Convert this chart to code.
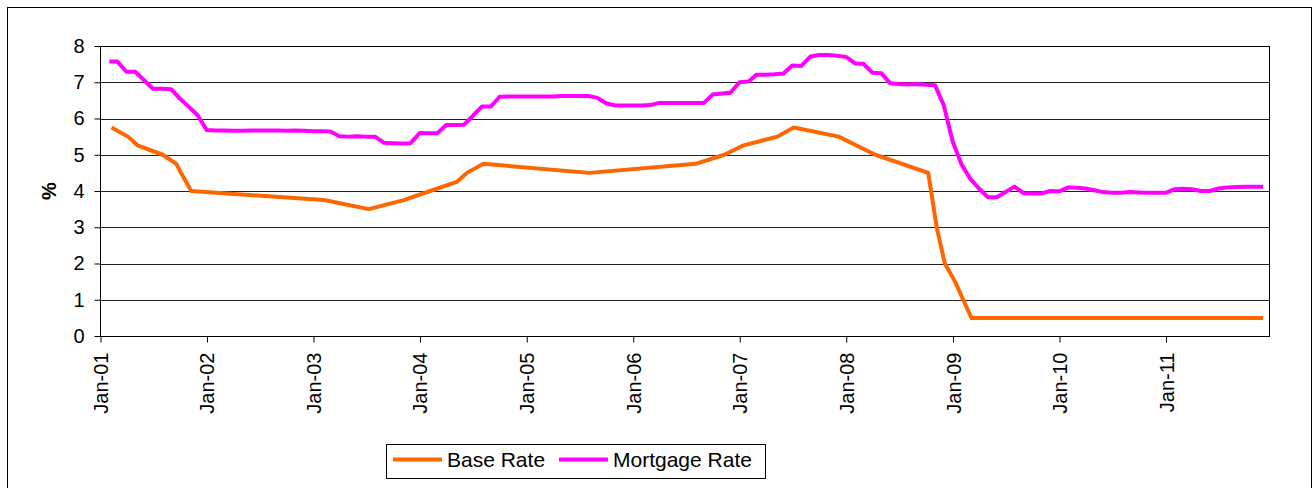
<!DOCTYPE html>
<html>
<head>
<meta charset="utf-8">
<script src="https://cdn.jsdelivr.net/npm/d3@7"></script>
<style>
  body { margin: 0; background: #fff; }
  svg { display: block; font-family: 'Liberation Sans', Arial, sans-serif; }
</style>
</head>
<body>
<div id="chart"></div>
<script>
// Bank base rate: points only where the rate changed
const baseDates = ['2001-02-08', '2001-04-05', '2001-05-10', '2001-08-02', '2001-09-18', '2001-10-04', '2001-11-08',
  '2003-02-06', '2003-07-10', '2003-11-06', '2004-02-05', '2004-05-06', '2004-06-10', '2004-08-05',
  '2005-08-04', '2006-08-03', '2006-11-09', '2007-01-11', '2007-05-10', '2007-07-05', '2007-12-06',
  '2008-02-07', '2008-04-10', '2008-10-08', '2008-11-06', '2008-12-04', '2009-01-08', '2009-02-05',
  '2009-03-05', '2011-11-30']
const baseRate = [5.75, 5.5, 5.25, 5.0, 4.75, 4.5, 4.0,
  3.75, 3.5, 3.75, 4.0, 4.25, 4.5, 4.75,
  4.5, 4.75, 5.0, 5.25, 5.5, 5.75, 5.5,
  5.25, 5.0, 4.5, 3.0, 2.0, 1.5, 1.0,
  0.5, 0.5]

// Mortgage rate: month-end, Jan 2001 - Nov 2011
const mortgageFirst = '2001-01'
const mortgageRate = [
  7.57, 7.57, 7.29, 7.29, 7.05, 6.82, 6.82, 6.81, 6.55, 6.32, 6.09, 5.68,
  5.67, 5.67, 5.66, 5.66, 5.67, 5.67, 5.67, 5.67, 5.66, 5.67, 5.66, 5.65,
  5.65, 5.64, 5.51, 5.50, 5.51, 5.50, 5.50, 5.33, 5.32, 5.31, 5.32, 5.60,
  5.59, 5.59, 5.82, 5.82, 5.83, 6.07, 6.33, 6.33, 6.60, 6.61, 6.61, 6.61,
  6.61, 6.61, 6.61, 6.62, 6.62, 6.62, 6.62, 6.57, 6.42, 6.36, 6.36, 6.36,
  6.36, 6.37, 6.43, 6.43, 6.43, 6.43, 6.43, 6.43, 6.66, 6.69, 6.71, 7.00,
  7.02, 7.21, 7.21, 7.22, 7.24, 7.46, 7.45, 7.71, 7.75, 7.75, 7.73, 7.70,
  7.52, 7.51, 7.26, 7.25, 6.97, 6.95, 6.94, 6.95, 6.93, 6.92, 6.37, 5.36,
  4.72, 4.35, 4.07, 3.83, 3.83, 3.97, 4.12, 3.94, 3.93, 3.93, 4.00, 3.99,
  4.10, 4.09, 4.07, 4.02, 3.97, 3.95, 3.95, 3.97, 3.96, 3.95, 3.95, 3.95,
  4.05, 4.06, 4.05, 4.00, 4.00, 4.07, 4.10, 4.11, 4.12, 4.12, 4.12
]

const yTicks = [0, 1, 2, 3, 4, 5, 6, 7, 8]
const seriesNames = ['Base Rate', 'Mortgage Rate']
const seriesColors = ['#ff6600', '#ff00ff']

const width = 1314
const height = 488
const plot = { left: 100, top: 46, right: 1269, bottom: 336 }

const svg = d3
  .select('#chart')
  .append('svg')
  .attr('width', width)
  .attr('height', height)

// outer chart border
svg
  .append('rect')
  .attr('x', 7.5)
  .attr('y', 7.5)
  .attr('width', 1304)
  .attr('height', 500)
  .attr('fill', 'none')
  .attr('stroke', '#000')

const parseDay = d3.timeParse('%Y-%m-%d')
const parseMonth = d3.timeParse('%Y-%m')

const start = parseMonth(mortgageFirst)
const mortgageDates = d3.timeMonth
  .range(d3.timeMonth.offset(start, 1), d3.timeMonth.offset(start, mortgageRate.length + 1))
  .map(d => d3.timeDay.offset(d, -1))

const baseData = baseDates.map((d, i) => ({ date: parseDay(d), value: baseRate[i] }))
const mortgageData = mortgageDates.map((d, i) => ({ date: d, value: mortgageRate[i] }))

const xPositionScale = d3
  .scaleTime()
  .domain([new Date(2001, 0, 1), new Date(2011, 11, 20)])
  .range([plot.left + 0.5, plot.right])
const yPositionScale = d3
  .scaleLinear()
  .domain([0, 8])
  .range([plot.bottom, plot.top])

// gridlines
svg
  .append('g')
  .selectAll('line')
  .data(yTicks)
  .enter()
  .append('line')
  .attr('x1', plot.left)
  .attr('x2', plot.right)
  .attr('y1', d => Math.round(yPositionScale(d)) + 0.5)
  .attr('y2', d => Math.round(yPositionScale(d)) + 0.5)
  .attr('stroke', '#222')
  .attr('stroke-width', 1)

// plot frame
svg
  .append('rect')
  .attr('x', plot.left + 0.5)
  .attr('y', plot.top + 0.5)
  .attr('width', plot.right - plot.left)
  .attr('height', plot.bottom - plot.top)
  .attr('fill', 'none')
  .attr('stroke', '#000')

// y axis
const yAxis = d3
  .axisLeft(yPositionScale)
  .tickValues(yTicks)
  .tickSize(6)
  .tickPadding(10)
  .tickFormat(d3.format('d'))
svg
  .append('g')
  .attr('class', 'axis y-axis')
  .attr('transform', 'translate(' + (plot.left + 0.5) + ',0)')
  .call(yAxis)

// x axis
const xAxis = d3
  .axisBottom(xPositionScale)
  .ticks(d3.timeYear.every(1))
  .tickSize(6)
  .tickFormat(d3.timeFormat('%b-%y'))
const xg = svg
  .append('g')
  .attr('class', 'axis x-axis')
  .attr('transform', 'translate(0,' + (plot.bottom + 0.5) + ')')
  .call(xAxis)
xg.selectAll('text')
  .attr('transform', 'rotate(-90)')
  .attr('text-anchor', 'end')
  .attr('x', -16)
  .attr('y', 0)
  .attr('dy', '0.35em')

svg.selectAll('.axis .domain').remove()
svg.selectAll('.axis line').attr('stroke', '#000')
svg.selectAll('.axis text')
  .attr('fill', '#000')
  .style('font-size', '20px')
  .style('font-family', "'Liberation Sans', Arial, sans-serif")

// y title
svg
  .append('text')
  .attr('transform', 'translate(56,191) rotate(-90)')
  .attr('text-anchor', 'middle')
  .style('font-size', '20px')
  .style('font-weight', 'bold')
  .text('%')

// lines
const line = d3
  .line()
  .x(d => xPositionScale(d.date))
  .y(d => yPositionScale(d.value))

svg
  .append('path')
  .datum(mortgageData)
  .attr('d', line)
  .attr('fill', 'none')
  .attr('stroke', seriesColors[1])
  .attr('stroke-width', 4)
  .attr('stroke-linejoin', 'round')

svg
  .append('path')
  .datum(baseData)
  .attr('d', line)
  .attr('fill', 'none')
  .attr('stroke', seriesColors[0])
  .attr('stroke-width', 4)
  .attr('stroke-linejoin', 'round')

// legend
const legend = svg.append('g').attr('transform', 'translate(386,444)')
legend
  .append('rect')
  .attr('x', 0.5)
  .attr('y', 0.5)
  .attr('width', 379)
  .attr('height', 34)
  .attr('fill', '#fff')
  .attr('stroke', '#000')

const legendX = [7, 173]
const legendItems = legend
  .selectAll('.item')
  .data(seriesNames)
  .enter()
  .append('g')
  .attr('class', 'item')
  .attr('transform', (d, i) => 'translate(' + legendX[i] + ',0)')

legendItems
  .append('line')
  .attr('x1', 0)
  .attr('x2', 49)
  .attr('y1', 15.5)
  .attr('y2', 15.5)
  .attr('stroke', (d, i) => seriesColors[i])
  .attr('stroke-width', 4)

legendItems
  .append('text')
  .attr('x', 54)
  .attr('y', 23)
  .style('font-size', '21px')
  .text(d => d)
</script>
</body>
</html>
